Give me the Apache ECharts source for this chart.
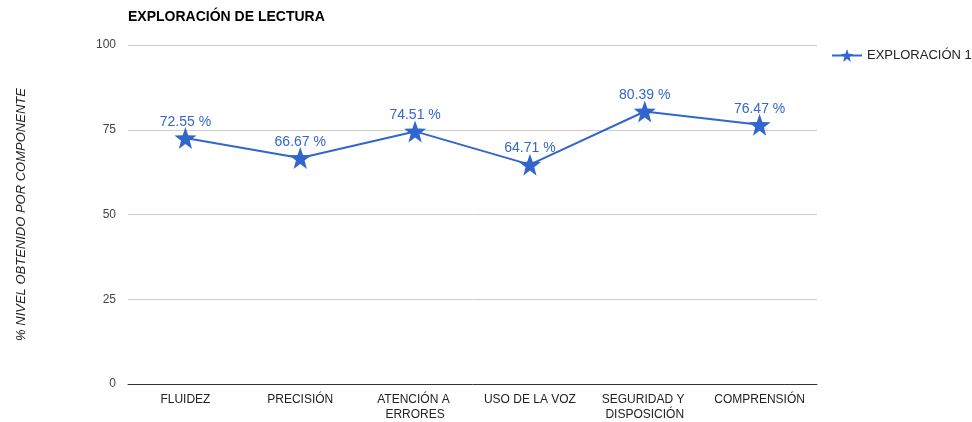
<!DOCTYPE html>
<html>
<head>
<meta charset="utf-8">
<script src="https://cdn.jsdelivr.net/npm/echarts@6/dist/echarts.min.js"></script>
<style>
  html, body { margin: 0; padding: 0; background: #fff; }
  #chart-container { width: 972px; height: 422px; }
</style>
</head>
<body>
<div id="chart-container"></div>
<script>
// Datos del gráfico
const categorias = ['FLUIDEZ', 'PRECISIÓN', 'ATENCIÓN A ERRORES', 'USO DE LA VOZ', 'SEGURIDAD Y DISPOSICIÓN', 'COMPRENSIÓN'];
const exploracion1 = [72.55, 66.67, 74.51, 64.71, 80.39, 76.47];
const ticksY = [0, 25, 50, 75, 100];

// Estrella de cinco puntas como símbolo
const estrella = 'path://M50,0 L62,34 L98,35 L69,57 L79,92 L50,71 L21,92 L31,57 L2,35 L38,34 Z';
const fuente = 'Arial, "Liberation Sans", sans-serif';

function initChart() {
    const chartDom = document.getElementById('chart-container');
    const myChart = echarts.init(chartDom);

    const option = {
        animation: false,
        textStyle: { fontFamily: fuente },
        title: {
            text: 'EXPLORACIÓN DE LECTURA',
            left: 123,
            top: 5,
            textStyle: { fontSize: 14, fontWeight: 'bold', color: '#000', fontFamily: fuente }
        },
        legend: {
            left: 826,
            top: 44,
            itemWidth: 30,
            itemHeight: 16,
            itemGap: 5,
            textStyle: { fontSize: 13, color: '#222', fontFamily: fuente },
            data: ['EXPLORACIÓN 1']
        },
        grid: {
            left: 128,
            right: 155,
            top: 45,
            bottom: 37
        },
        xAxis: {
            type: 'category',
            data: categorias,
            axisLine: { lineStyle: { color: '#333', width: 1 } },
            axisTick: { show: false },
            axisLabel: {
                color: '#222',
                fontSize: 12,
                margin: 8,
                width: 100,
                overflow: 'break',
                lineHeight: 15,
                interval: 0
            }
        },
        yAxis: {
            type: 'value',
            min: 0,
            max: 100,
            interval: 25,
            name: '% NIVEL OBTENIDO POR COMPONENTE',
            nameLocation: 'middle',
            nameGap: 100,
            nameTextStyle: { fontStyle: 'italic', fontSize: 13, color: '#222', fontFamily: fuente },
            axisLine: { show: false },
            axisTick: { show: false },
            splitLine: { lineStyle: { color: '#ccc' } },
            axisLabel: {
                color: '#444',
                fontSize: 12,
                margin: 12,
                formatter: v => ticksY.includes(v) ? String(v) : ''
            }
        },
        series: [{
            name: 'EXPLORACIÓN 1',
            type: 'line',
            data: exploracion1,
            symbol: estrella,
            symbolSize: 22,
            lineStyle: { color: '#3366cc', width: 2 },
            itemStyle: { color: '#3366cc' },
            label: {
                show: true,
                position: 'top',
                distance: -2,
                color: '#3366cc',
                fontSize: 14,
                formatter: p => p.value.toFixed(2) + ' %'
            }
        }]
    };

    myChart.setOption(option);
}

initChart();
</script>
</body>
</html>
